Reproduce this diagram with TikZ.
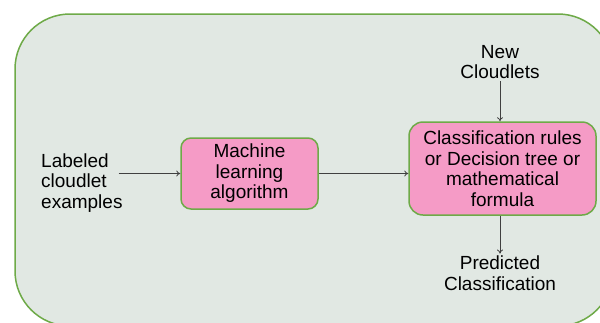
\documentclass[tikz,border=0pt]{standalone}
\usepackage{fontspec}
\setmainfont{Liberation Sans}
\usetikzlibrary{arrows.meta, positioning}

\definecolor{panelfill}{HTML}{E1E8E3}
\definecolor{panelline}{HTML}{6EAA48}
\definecolor{boxfill}{HTML}{F59BC6}
\definecolor{arrowgray}{HTML}{404040}

\begin{document}
\begin{tikzpicture}[
        x=1pt, y=-1pt,
        font=\fontsize{19}{20.5}\selectfont,
        panel/.style={draw=panelline, fill=panelfill, line width=1.5pt, rounded corners=55pt},
        block/.style={rectangle, draw=panelline, fill=boxfill, line width=1.5pt, text centered, align=center},
        label text/.style={inner sep=2pt, align=center},
        line/.style={draw=arrowgray, line width=0.8pt, -{To[length=4pt, width=6pt]}}
    ]
        \useasboundingbox (0,0) rectangle (600,322);
        \clip (0,0) rectangle (600,322);

        % Background panel
        \path [panel] (15,14) rectangle (613,326);

        % Training side
        \node [label text, align=left, inner sep=0pt, anchor=west] (labeled) at (41,183) {Labeled\\cloudlet\\examples};
        \node [block, minimum width=137pt, minimum height=71pt, rounded corners=10pt] (machine) at (249.5,173.5) {Machine\\learning\\algorithm};
        \node [block, minimum width=187pt, minimum height=93pt, rounded corners=14pt] (rules) at (502.5,168.5) {Classification rules\\or Decision tree or\\mathematical\\formula};

        \path [line] ([xshift=-4pt]labeled.east |- machine.west) -- (machine.west);
        \path [line] (machine.east) -- (machine.east -| rules.west);

        % Prediction side
        \node [label text] (newcl) at (500,62) {New\\Cloudlets};
        \node [label text] (predicted) at (500,273) {Predicted\\Classification};

        \path [line] (newcl.south) -- (newcl.south |- rules.north);
        \path [line] (rules.south -| predicted.north) -- (predicted.north);

    \end{tikzpicture}
\end{document}
